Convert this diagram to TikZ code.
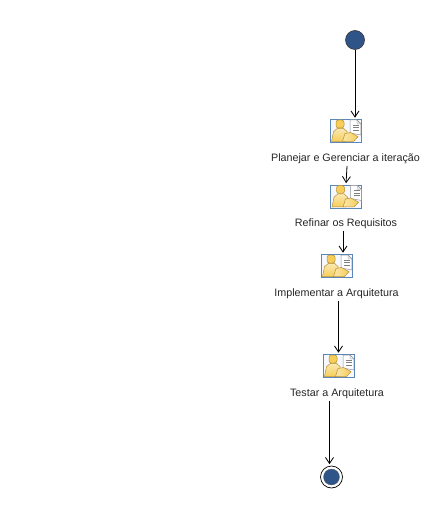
\documentclass[tikz,border=0pt]{standalone}
\usepackage{fontspec}
\setmainfont{Liberation Sans}
\usetikzlibrary{arrows.meta}

\definecolor{umlblue}{HTML}{2F5487}
\definecolor{iconframe}{HTML}{5A86B8}
\definecolor{iconyellow}{HTML}{F6CE58}
\definecolor{iconedge}{HTML}{B8902F}

\newcommand{\taskicon}[1]{
\begin{scope}[shift={(#1.center)}]
\draw[gray!85, fill=white, line width=.5pt] (4.5,-11) -- (11.5,-11) -- (15.4,-7) -- (15.4,4) -- (4.5,2) -- cycle;
\draw[gray!85, fill=gray!15, line width=.4pt] (11.5,-11) -- (11.5,-7) -- (15.4,-7) -- cycle;
\foreach \rowy in {-6,-3.5,-1}
  \draw[gray, line width=.5pt] (7.5,\rowy) -- (13.5,\rowy);
\draw[iconedge, top color=iconyellow!45, bottom color=iconyellow, line width=.5pt] (-14,10.5) -- (-12,.7) -- (-8,-2.7) -- (-2,-2.7) -- (1.7,.7) -- (0,10.5) -- cycle;
\draw[iconedge, fill=iconyellow, line width=.5pt, rounded corners=2.5pt] (-9.5,-11) rectangle (-1.5,-3);
\draw[iconedge, left color=iconyellow!50, right color=iconyellow, line width=.5pt] (-3,10.5) -- (-.5,2.5) -- (5,1.5) -- (12.5,5.7) -- (8,10.5) -- cycle;
\end{scope}
}

\begin{document}
\begin{tikzpicture}[x=1pt,y=-1pt]
\tikzset{
task/.style={rectangle, draw=iconframe, fill=blue!3, line width=.7pt, minimum width=31pt, minimum height=23pt, inner sep=0pt},
tasklabel/.style={font=\fontsize{10.75pt}{12pt}\selectfont, text=black!85, inner sep=0pt, minimum height=14pt},
startnode/.style={circle, draw=black!80, fill=umlblue, line width=.6pt, minimum size=19pt, inner sep=0pt},
endnode/.style={circle, draw=black, fill=white, line width=.7pt, minimum size=22pt, inner sep=0pt},
endcore/.style={circle, fill=umlblue, draw=black!60, line width=.3pt, minimum size=16pt, inner sep=0pt},
myarrow/.style={-{Straight Barb[length=6pt,width=8pt]}, line width=.8pt, shorten >=1.5pt},
}
\useasboundingbox (0,0) rectangle (421,510);

\node [startnode] (start) at (355,40) {};
\node [task, below of=start, node distance=91pt, xshift=-9.5pt] (planejar) {};
\node [tasklabel, below of=planejar, node distance=27.7pt] (lblplanejar) {Planejar e Gerenciar a iteração};
\node [task, below of=planejar, node distance=65.5pt, xshift=.5pt] (refinar) {};
\node [tasklabel, below of=refinar, node distance=27.2pt] (lblrefinar) {Refinar os Requisitos};
\node [task, below of=refinar, node distance=69.5pt, xshift=-9.5pt] (implementar) {};
\node [tasklabel, below of=implementar, node distance=27.7pt] (lblimplementar) {Implementar a Arquitetura};
\node [task, below of=implementar, node distance=100pt, xshift=2pt] (testar) {};
\node [tasklabel, below of=testar, node distance=27.7pt, xshift=-1.5pt] (lbltestar) {Testar a Arquitetura};
\node [endnode] (fim) at (331.5,477) {};
\node [endcore] (fimcore) at (fim.center) {};

\taskicon{planejar}
\taskicon{refinar}
\taskicon{implementar}
\taskicon{testar}

\draw[myarrow] (start.south) -- (start.south |- planejar.north);
\draw[myarrow] ([xshift=1.5pt]lblplanejar.south) -- ([xshift=0pt]refinar.north);
\draw[myarrow] ([xshift=-3pt]lblrefinar.south) -- ([xshift=-3pt]lblrefinar.south |- implementar.north);
\draw[myarrow] ([xshift=2pt]lblimplementar.south) -- ([xshift=2pt]lblimplementar.south |- testar.north);
\draw[myarrow] ([xshift=-7.5pt]lbltestar.south) -- ([xshift=-7.5pt]lbltestar.south |- fim.north);
\end{tikzpicture}
\end{document}
